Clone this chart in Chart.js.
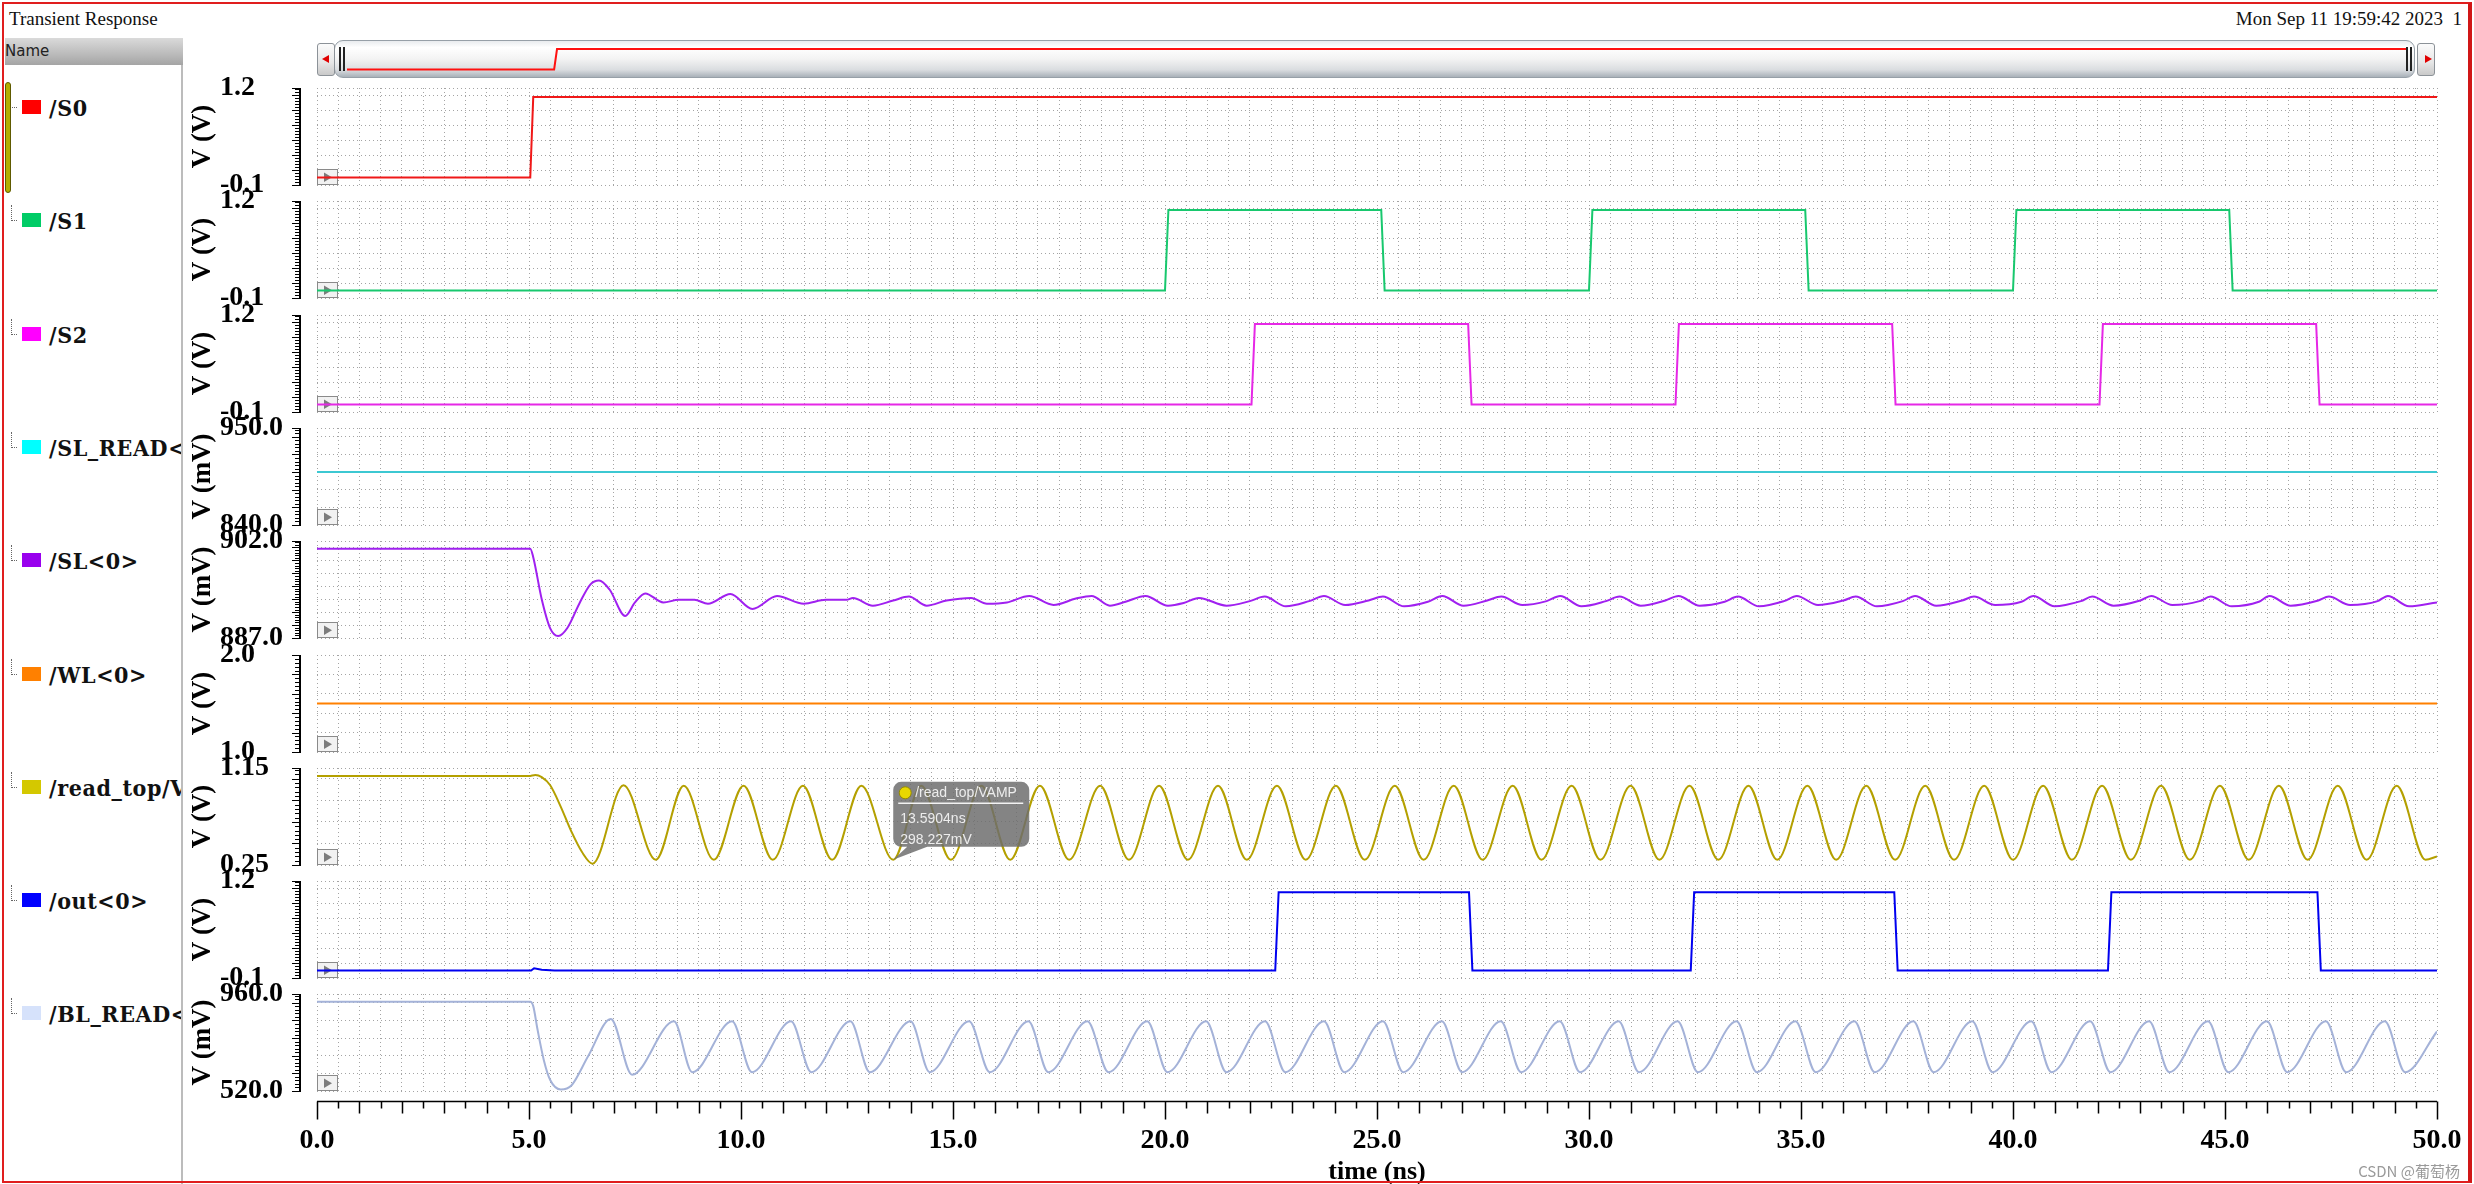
<!DOCTYPE html>
<html lang="en">
<head>
<meta charset="utf-8">
<title>Transient Response</title>
<script src="https://cdn.jsdelivr.net/npm/chart.js@4.4.1/dist/chart.umd.min.js"></script>
<style>
html,body{margin:0;padding:0;background:#fff;}
#page{position:relative;width:2474px;height:1184px;overflow:hidden;background:#fff;}
#page canvas{position:absolute;}
.abs{position:absolute;}
#frame{position:absolute;left:2px;top:2px;width:2470px;height:1181px;border:2px solid #e01e1e;border-right:4px solid #d01616;box-sizing:border-box;pointer-events:none;}
#appTitle{left:9px;top:8px;font:19px "Liberation Serif",serif;color:#111;white-space:nowrap;}
#stamp{right:12px;top:8px;font:19px "Liberation Serif",serif;color:#111;white-space:pre;}
#nameHead{left:5px;top:38px;width:178px;height:27px;background:linear-gradient(#dadada,#b8b8b8 65%,#a4a4a4);font:15px "DejaVu Sans",sans-serif;color:#222;line-height:27px;}
#panelEdge{left:181px;top:65px;width:2px;height:1119px;background:#bcbcbc;}
#legendBox{left:0;top:0;width:181px;height:1184px;overflow:hidden;}
.leg{left:49px;font-weight:bold;color:#111;white-space:nowrap;height:30px;line-height:30px;}
.sw{left:22px;width:19px;height:14px;}
.tree{left:11px;width:5px;height:15px;border-left:1px dotted #666;border-bottom:1px dotted #666;}
#selBar{left:5px;top:82px;width:4px;height:109px;background:#b3ae00;border:1px solid #5e5a00;border-radius:3px;}
.sbBtn{top:43px;width:18px;height:33px;border:1px solid #8c9298;border-radius:3px;background:linear-gradient(#fbfbfb,#e6e6e6 60%,#c9c9c9);box-sizing:border-box;}
#sbThumb{left:334px;top:40px;width:2081px;height:38px;border:1px solid #97a0a8;border-radius:9px;background:linear-gradient(#e9ecef 0%,#ffffff 18%,#f3f3f3 50%,#dadde0 80%,#a9b1b9 100%);box-sizing:border-box;}
.grip{top:47px;width:2px;height:24px;background:#222;}
.triL{width:0;height:0;border-top:4px solid transparent;border-bottom:4px solid transparent;border-right:7px solid #e00000;}
.triR{width:0;height:0;border-top:4px solid transparent;border-bottom:4px solid transparent;border-left:7px solid #e00000;}
#mark{right:14px;top:1160px;font:15px "Noto Sans CJK SC","DejaVu Sans",sans-serif;color:#9a9a9a;white-space:nowrap;}
</style>
</head>
<body>
<div id="page">
  <div id="appTitle" class="abs">Transient Response</div>
  <div id="stamp" class="abs">Mon Sep 11 19:59:42 2023  1</div>
  <div id="nameHead" class="abs">Name</div>
  <div id="legendBox" class="abs"></div>
  <div id="panelEdge" class="abs"></div>
  <div id="selBar" class="abs"></div>
  <div id="sbThumb" class="abs"></div>
  <div class="abs grip" style="left:339px"></div>
  <div class="abs grip" style="left:343px"></div>
  <div class="abs grip" style="left:2406px"></div>
  <div class="abs grip" style="left:2410px"></div>
  <div class="abs sbBtn" style="left:317px"></div>
  <div class="abs triL" style="left:322px;top:55px"></div>
  <div class="abs sbBtn" style="left:2417px"></div>
  <div class="abs triR" style="left:2425px;top:55px"></div>
  <div id="mark" class="abs">CSDN @葡萄杨</div>
  <div id="frame"></div>
</div>
<script>
// ================= DATA =================
const signalNames = ['/S0', '/S1', '/S2', '/SL_READ<', '/SL<0>', '/WL<0>', '/read_top/V', '/out<0>', '/BL_READ<'];
const axisUnits = ['V (V)', 'V (V)', 'V (V)', 'V (mV)', 'V (mV)', 'V (V)', 'V (V)', 'V (V)', 'V (mV)'];
const axisMin = [-0.1, -0.1, -0.1, 840, 887, 1.0, 0.25, -0.1, 520];
const axisMax = [1.2, 1.2, 1.2, 950, 902, 2.0, 1.15, 1.2, 960];
const axisStep = [0.2, 0.2, 0.2, 20, 2, 0.2, 0.2, 0.2, 80];
const axisMinLabels = ['-0.1', '-0.1', '-0.1', '840.0', '887.0', '1.0', '0.25', '-0.1', '520.0'];
const axisMaxLabels = ['1.2', '1.2', '1.2', '950.0', '902.0', '2.0', '1.15', '1.2', '960.0'];
const xTickValues = [0, 5, 10, 15, 20, 25, 30, 35, 40, 45, 50];
const xTickLabels = ['0.0', '5.0', '10.0', '15.0', '20.0', '25.0', '30.0', '35.0', '40.0', '45.0', '50.0'];
const xAxisTitle = 'time (ns)';

const s0Time = [0, 5.03, 5.1, 50];
const s0Volt = [0, 0, 1.08, 1.08];

const s1Time = [0, 20.0, 20.08, 25.1, 25.18, 30.0, 30.08, 35.1, 35.18, 40.0, 40.08, 45.1, 45.18, 50];
const s1Volt = [0, 0, 1.08, 1.08, 0, 0, 1.08, 1.08, 0, 0, 1.08, 1.08, 0, 0];

const s2Time = [0, 22.04, 22.12, 27.15, 27.23, 32.04, 32.12, 37.15, 37.23, 42.04, 42.12, 47.15, 47.23, 50];
const s2Volt = [0, 0, 1.08, 1.08, 0, 0, 1.08, 1.08, 0, 0, 1.08, 1.08, 0, 0];

const slReadTime = [0, 50];
const slReadVolt = [900, 900];

const sl0Time = [0, 5.03, 5.1, 5.3, 5.5, 5.69, 5.9, 6.2, 6.45, 6.65, 6.9, 7.27, 7.5, 7.74, 8.17, 8.53, 8.9, 9.22, 9.75,
  10.27, 10.85, 11.48, 12.0, 12.49, 12.64, 13.11, 13.59, 13.96, 14.38, 14.85, 15.43, 15.8, 16.27, 16.8, 17.37, 17.9,
  18.27, 18.7, 19.07, 19.54, 20.07, 20.44, 20.8,
  21.45, 22.0, 22.35, 22.85, 23.4, 23.75, 24.25, 24.8, 25.14, 25.64, 26.2, 26.54, 27.04, 27.6, 27.93, 28.43, 29.0,
  29.32, 29.82, 30.4, 30.72, 31.22, 31.8, 32.11, 32.61, 33.2, 33.51, 34.01, 34.6, 34.9, 35.4, 36.0, 36.29, 36.79,
  37.4, 37.69, 38.19, 38.8, 39.08, 39.58, 40.2, 40.48, 40.98, 41.6, 41.87, 42.37, 43.0, 43.26, 43.76, 44.4, 44.66,
  45.16, 45.8, 46.05, 46.55, 47.2, 47.45, 47.95, 48.6, 48.84, 49.34, 50];
const sl0Volt = [900.8, 900.8, 899.5, 893.0, 888.5, 887.3, 888.5, 892.5, 895.3, 895.9, 894.5, 890.4, 892.5, 893.9, 892.5,
  892.9, 892.9, 892.3, 893.8, 891.5, 893.5, 892.3, 892.9, 892.9, 893.2, 892.0, 892.8, 893.4, 892.0, 892.8, 893.2, 892.3,
  892.5, 893.5, 892.1, 893.1, 893.5, 892.0, 892.6, 893.5, 892.0, 892.4, 893.2,
  892.0, 892.7, 893.4, 891.9, 892.7, 893.5, 892.1, 892.8, 893.4, 891.9, 892.6, 893.5, 892.0, 892.8, 893.4, 892.1, 892.7,
  893.5, 891.9, 892.7, 893.4, 892.0, 892.8, 893.5, 892.0, 892.6, 893.4, 891.9, 892.7, 893.5, 892.1, 892.8, 893.4, 891.9,
  892.7, 893.5, 892.0, 892.8, 893.4, 892.1, 892.6, 893.5, 891.9, 892.7, 893.4, 892.0, 892.8, 893.5, 892.1, 892.7, 893.4,
  891.9, 892.6, 893.5, 892.0, 892.8, 893.4, 892.1, 892.7, 893.5, 891.9, 892.5];

const wlTime = [0, 50];
const wlVolt = [1.5, 1.5];

const rtTime = [0, 5.0, 5.15, 5.3, 5.5, 5.75, 6.0, 6.25, 6.5,
  7.23, 7.99, 8.65, 9.36, 10.06, 10.75, 11.46, 12.15, 12.84, 13.59, 14.25, 14.95, 15.67, 16.35, 17.05, 17.74,
  18.47, 19.15, 19.86, 20.54, 21.25, 21.93, 22.64, 23.32, 24.03, 24.71, 25.42, 26.1, 26.81, 27.49, 28.2, 28.88,
  29.59, 30.27, 30.98, 31.66, 32.37, 33.05, 33.76, 34.44, 35.15, 35.83, 36.54, 37.22, 37.93, 38.61, 39.32, 40.0,
  40.71, 41.39, 42.1, 42.78, 43.49, 44.17, 44.88, 45.56, 46.27, 46.95, 47.66, 48.34, 49.05, 49.73, 50];
const rtVolt = [1.075, 1.075, 1.085, 1.065, 0.99, 0.79, 0.56, 0.37, 0.262,
  0.99, 0.298, 0.985, 0.298, 0.985, 0.298, 0.985, 0.298, 0.985, 0.298, 0.985, 0.298, 0.985, 0.298, 0.985, 0.298,
  0.985, 0.298, 0.985, 0.298, 0.985, 0.298, 0.985, 0.298, 0.985, 0.298, 0.985, 0.298, 0.985, 0.298, 0.985, 0.298,
  0.985, 0.298, 0.985, 0.298, 0.985, 0.298, 0.985, 0.298, 0.985, 0.298, 0.985, 0.298, 0.985, 0.298, 0.985, 0.298,
  0.985, 0.298, 0.985, 0.298, 0.985, 0.298, 0.985, 0.298, 0.985, 0.298, 0.985, 0.298, 0.985, 0.298, 0.33];

const outTime = [0, 5.05, 5.12, 5.3, 5.6, 22.6, 22.68, 27.17, 27.25, 32.4, 32.48, 37.2, 37.28, 42.24, 42.32, 47.18, 47.26, 50];
const outVolt = [0, 0, 0.03, 0.01, 0, 0, 1.05, 1.05, 0, 0, 1.05, 1.05, 0, 0, 1.05, 1.05, 0, 0];

const blTime = [0, 5.03, 5.1, 5.2, 5.35, 5.5, 5.75, 6.0, 6.4, 6.93, 7.43,
  8.42, 8.85, 9.79, 10.26, 11.18, 11.66, 12.58, 13.04, 14.0, 14.45, 15.38, 15.87, 16.78, 17.25, 18.17, 18.67,
  19.58, 20.06, 20.97, 21.45, 22.36, 22.84, 23.75, 24.23, 25.14, 25.62, 26.53, 27.01, 27.92, 28.4, 29.31, 29.79,
  30.7, 31.18, 32.09, 32.57, 33.48, 33.96, 34.87, 35.35, 36.26, 36.74, 37.65, 38.13, 39.04, 39.52, 40.43, 40.91,
  41.82, 42.3, 43.21, 43.69, 44.6, 45.08, 45.99, 46.47, 47.38, 47.86, 48.77, 49.25, 50];
const blVolt = [925, 925, 905, 800, 660, 570, 527, 545, 680, 847, 594,
  836, 605, 836, 605, 836, 605, 836, 605, 836, 605, 836, 605, 836, 605, 836, 605,
  836, 605, 836, 605, 836, 605, 836, 605, 836, 605, 836, 605, 836, 605, 836, 605,
  836, 605, 836, 605, 836, 605, 836, 605, 836, 605, 836, 605, 836, 605, 836, 605,
  836, 605, 836, 605, 836, 605, 836, 605, 836, 605, 836, 605, 790];

const seriesTimes = [s0Time, s1Time, s2Time, slReadTime, sl0Time, wlTime, rtTime, outTime, blTime];
const seriesValues = [s0Volt, s1Volt, s2Volt, slReadVolt, sl0Volt, wlVolt, rtVolt, outVolt, blVolt];
const seriesSmooth = [false, false, false, false, true, false, true, false, true];

const cursorTime = 13.5904;
const cursorValue = 0.298227;
const cursorLabels = ['/read_top/VAMP', '13.5904ns', '298.227mV'];

// ================= STYLE =================
const traceColors = ['#f01818', '#18c86e', '#e628e6', '#3cc8d2', '#a020f0', '#ff8000', '#b4a000', '#0000f0', '#a4b2d8'];
const legendColors = ['#ff0000', '#00cc66', '#ff00ff', '#00ffff', '#9900ee', '#ff8000', '#d4c800', '#0000ff', '#d6e2fb'];
const SERIF = '"Liberation Serif", "Times New Roman", serif';
const GRID = '#a4a4a4';

Chart.defaults.font.family = SERIF;
Chart.defaults.color = '#000';

const page = document.getElementById('page');
const legendBox = document.getElementById('legendBox');
function stripTop(k) { return Math.round(88 + 113.3 * k); }
function pts(t, v) { return t.map((x, i) => ({ x: x, y: v[i] })); }

// pick a condensed serif for the name list if one is installed
const legendFont = (function () {
  const c = document.createElement('canvas').getContext('2d');
  const probe = '/SL_READ<0>WWW';
  c.font = 'bold 23px "DejaVu Serif Condensed", monospace';
  const a = c.measureText(probe).width;
  c.font = 'bold 23px monospace';
  const b = c.measureText(probe).width;
  if (Math.abs(a - b) > 0.5) return { css: 'bold 23px "DejaVu Serif Condensed", serif', spacing: '0.6px' };
  return { css: 'bold 25px "Liberation Serif", serif', spacing: '1.2px' };
})();

// ---------- legend panel ----------
signalNames.forEach((name, k) => {
  const c = Math.round(107 + 113.3 * k);
  const tr = document.createElement('div');
  if (k > 0) {
    tr.className = 'abs tree'; tr.style.top = (c - 15) + 'px';
  } else {
    tr.className = 'abs'; tr.style.cssText = 'left:12px;top:' + c + 'px;width:5px;border-bottom:1px dotted #666;';
  }
  legendBox.appendChild(tr);
  const sw = document.createElement('div');
  sw.className = 'abs sw'; sw.style.top = (c - 7) + 'px'; sw.style.background = legendColors[k];
  legendBox.appendChild(sw);
  const lb = document.createElement('div');
  lb.className = 'abs leg'; lb.style.top = (c - 14) + 'px'; lb.textContent = name;
  lb.style.font = legendFont.css; lb.style.letterSpacing = legendFont.spacing;
  lb.style.lineHeight = '30px'; lb.style.height = '30px';
  legendBox.appendChild(lb);
});

// ---------- plugins ----------
const stripDecor = {
  id: 'stripDecor',
  beforeDatasetsDraw(chart, args, o) {
    const { ctx, chartArea: a } = chart;
    ctx.save();
    ctx.fillStyle = '#f2f2f2'; ctx.strokeStyle = '#8a8a8a'; ctx.lineWidth = 1;
    ctx.fillRect(a.left + 0.5, a.bottom - 15.5, 20, 15);
    ctx.strokeRect(a.left + 0.5, a.bottom - 15.5, 20, 15);
    ctx.fillStyle = '#7c7c7c';
    ctx.beginPath();
    ctx.moveTo(a.left + 7, a.bottom - 12.5); ctx.lineTo(a.left + 7, a.bottom - 3); ctx.lineTo(a.left + 15, a.bottom - 7.8);
    ctx.closePath(); ctx.fill();
    ctx.restore();
  },
  afterDraw(chart, args, o) {
    const { ctx, chartArea: a } = chart;
    const ys = chart.scales.y;
    ctx.save();
    const rx = 300;
    ctx.strokeStyle = '#000';
    ctx.lineWidth = 2;
    ctx.beginPath(); ctx.moveTo(rx, a.top); ctx.lineTo(rx, a.bottom + 1); ctx.stroke();
    ctx.lineWidth = 1;
    const minor = o.step / 5;
    const n = Math.round((ys.max - ys.min) / minor);
    ctx.beginPath();
    for (let i = 0; i <= n; i++) {
      const v = Math.min(ys.min + i * minor, ys.max);
      const y = Math.round(ys.getPixelForValue(v)) + 0.5;
      const len = (i % 5 === 0) ? 8 : 5;
      ctx.moveTo(rx - len, y); ctx.lineTo(rx, y);
    }
    const yt = Math.round(ys.getPixelForValue(ys.max)) + 0.5;
    ctx.moveTo(rx - 8, yt); ctx.lineTo(rx, yt);
    ctx.stroke();
    ctx.translate(203, (a.top + a.bottom) / 2);
    ctx.rotate(-Math.PI / 2);
    ctx.font = 'bold 27px ' + SERIF;
    ctx.fillStyle = '#000'; ctx.textAlign = 'center'; ctx.textBaseline = 'middle';
    ctx.fillText(o.unit, 0, 0);
    ctx.restore();
    if (o.timeRuler) {
      const xs = chart.scales.x;
      const y0 = a.bottom + 10.5;
      ctx.save();
      ctx.strokeStyle = '#000'; ctx.lineWidth = 1.5;
      ctx.beginPath();
      ctx.moveTo(xs.getPixelForValue(0), y0); ctx.lineTo(xs.getPixelForValue(50), y0);
      for (let i = 0; i <= 100; i++) {
        const x = Math.round(xs.getPixelForValue(i * 0.5)) + 0.5;
        const len = (i % 10 === 0) ? 18 : (i % 2 === 0 ? 12 : 7);
        ctx.moveTo(x, y0); ctx.lineTo(x, y0 + len);
      }
      ctx.stroke();
      ctx.restore();
    }
  }
};

const cursorTip = {
  id: 'cursorTip',
  afterDatasetsDraw(chart, args, o) {
    if (!o || !o.show) return;
    const { ctx } = chart;
    const px = chart.scales.x.getPixelForValue(cursorTime);
    const py = chart.scales.y.getPixelForValue(cursorValue);
    const bx = px, by = py - 78, bw = 136, bh = 65, r = 8;
    ctx.save();
    ctx.fillStyle = 'rgba(108,108,108,0.84)';
    ctx.beginPath();
    ctx.moveTo(bx + r, by);
    ctx.lineTo(bx + bw - r, by); ctx.arcTo(bx + bw, by, bx + bw, by + r, r);
    ctx.lineTo(bx + bw, by + bh - r); ctx.arcTo(bx + bw, by + bh, bx + bw - r, by + bh, r);
    ctx.lineTo(bx + 34, by + bh); ctx.lineTo(px, py); ctx.lineTo(bx + 14, by + bh);
    ctx.lineTo(bx + r, by + bh); ctx.arcTo(bx, by + bh, bx, by + bh - r, r);
    ctx.lineTo(bx, by + r); ctx.arcTo(bx, by, bx + r, by, r);
    ctx.closePath(); ctx.fill();
    ctx.fillStyle = '#e8d800'; ctx.strokeStyle = '#958a00'; ctx.lineWidth = 1;
    ctx.beginPath(); ctx.arc(bx + 12, by + 11, 6, 0, Math.PI * 2); ctx.fill(); ctx.stroke();
    ctx.fillStyle = '#ededed';
    ctx.font = '14px "Liberation Sans", Arial, sans-serif';
    ctx.textBaseline = 'middle'; ctx.textAlign = 'left';
    ctx.fillText(cursorLabels[0], bx + 22, by + 11);
    ctx.strokeStyle = '#f2f2f2'; ctx.lineWidth = 1.5;
    ctx.beginPath(); ctx.moveTo(bx + 5, by + 21.5); ctx.lineTo(bx + bw - 6, by + 21.5); ctx.stroke();
    ctx.fillText(cursorLabels[1], bx + 7, by + 37);
    ctx.fillText(cursorLabels[2], bx + 7, by + 58);
    ctx.restore();
  }
};

// ---------- strips ----------
function makeStrip(k) {
  const isLast = (k === signalNames.length - 1);
  const top = stripTop(k) - 20;
  const h = isLast ? (1184 - top) : 137;
  const cv = document.createElement('canvas');
  cv.width = 2474; cv.height = h;
  cv.style.left = '0px'; cv.style.top = top + 'px';
  cv.style.width = '2474px'; cv.style.height = h + 'px';
  page.insertBefore(cv, document.getElementById('mark'));
  const ymin = axisMin[k], ymax = axisMax[k], ystep = axisStep[k];
  new Chart(cv, {
    type: 'line',
    data: {
      datasets: [{
        data: pts(seriesTimes[k], seriesValues[k]),
        borderColor: traceColors[k],
        borderWidth: 2,
        pointRadius: 0,
        fill: false,
        tension: 0,
        cubicInterpolationMode: seriesSmooth[k] ? 'monotone' : 'default'
      }]
    },
    options: {
      responsive: false,
      animation: false,
      devicePixelRatio: 1,
      events: [],
      layout: { padding: { left: 220, right: 37, top: 20, bottom: isLast ? 0 : 20 } },
      plugins: {
        legend: { display: false },
        tooltip: { enabled: false },
        stripDecor: { unit: axisUnits[k], step: ystep, timeRuler: isLast },
        cursorTip: { show: k === 6 }
      },
      scales: {
        x: {
          type: 'linear', min: 0, max: 50,
          afterBuildTicks: (s) => { const t = []; for (let i = 0; i <= 100; i++) t.push({ value: i * 0.5 }); s.ticks = t; },
          grid: isLast
            ? { color: GRID, lineWidth: 1, drawTicks: true, tickLength: 33, tickColor: 'rgba(0,0,0,0)' }
            : { color: GRID, lineWidth: 1, drawTicks: false },
          border: { display: false, dash: [1, 3] },
          ticks: isLast ? {
            display: true, autoSkip: false, maxRotation: 0, minRotation: 0, padding: 0,
            color: '#000', font: { family: SERIF, size: 28, weight: 'bold' },
            callback: (v) => { const i = xTickValues.indexOf(v); return i >= 0 ? xTickLabels[i] : ''; }
          } : { display: false },
          title: isLast ? {
            display: true, text: xAxisTitle, color: '#000',
            font: { family: SERIF, size: 26, weight: 'bold', lineHeight: 0.9 }, padding: { top: 0, bottom: 0 }
          } : { display: false },
          afterFit: (s) => { s.height = isLast ? (h - 20 - 97) : 0; }
        },
        y: {
          type: 'linear', min: ymin, max: ymax,
          afterBuildTicks: (s) => {
            const t = [];
            for (let i = 0; ymin + i * ystep < ymax - 1e-9; i++) t.push({ value: +(ymin + i * ystep).toFixed(6) });
            t.push({ value: ymax });
            s.ticks = t;
          },
          grid: { color: GRID, lineWidth: 1, drawTicks: false },
          border: { display: false, dash: [1, 3] },
          ticks: {
            display: true, autoSkip: false, crossAlign: 'far', padding: 0,
            color: '#000', font: { family: SERIF, size: 28, weight: 'bold' },
            callback: (v) => {
              if (Math.abs(v - ymin) < 1e-9) return axisMinLabels[k];
              if (Math.abs(v - ymax) < 1e-9) return axisMaxLabels[k];
              return '';
            }
          },
          afterFit: (s) => { s.width = 97; }
        }
      }
    },
    plugins: [stripDecor, cursorTip]
  });
}
for (let k = 0; k < signalNames.length; k++) makeStrip(k);

// ---------- overview trace in the scroll bar ----------
(function () {
  const cv = document.createElement('canvas');
  cv.width = 2059; cv.height = 36;
  cv.style.left = '347px'; cv.style.top = '40px';
  cv.style.width = '2059px'; cv.style.height = '36px';
  page.insertBefore(cv, document.getElementById('mark'));
  new Chart(cv, {
    type: 'line',
    data: { datasets: [{ data: pts(s0Time, s0Volt), borderColor: '#ff1010', borderWidth: 2, pointRadius: 0, fill: false, tension: 0 }] },
    options: {
      responsive: false, animation: false, devicePixelRatio: 1, events: [],
      layout: { padding: 0 },
      plugins: { legend: { display: false }, tooltip: { enabled: false } },
      scales: {
        x: { type: 'linear', min: 0, max: 50, display: false },
        y: { type: 'linear', min: -0.349, max: 1.556, display: false }
      }
    }
  });
})();
</script>
</body>
</html>
